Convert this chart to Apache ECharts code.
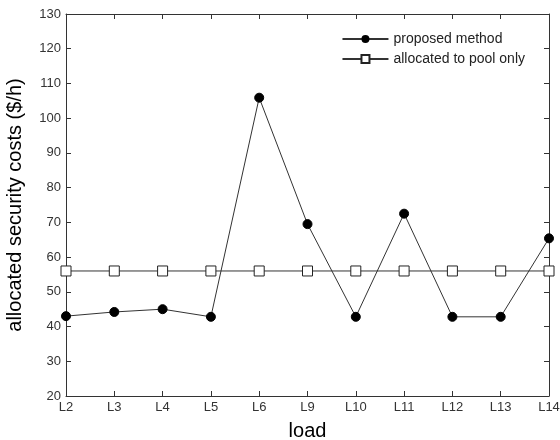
<!DOCTYPE html>
<html style="height: 100%">
<head>
    <meta charset="utf-8">
    <title>allocated security costs</title>
</head>
<body style="height: 100%; margin: 0">
<div id="container" style="width: 560px; height: 440px"></div>
<script src="https://cdn.jsdelivr.net/npm/echarts@6/dist/echarts.min.js"></script>
<script type="text/javascript">
var loads = ['L2', 'L3', 'L4', 'L5', 'L6', 'L9', 'L10', 'L11', 'L12', 'L13', 'L14'];
var proposed = [43.0, 44.2, 45.0, 42.8, 105.9, 69.5, 42.8, 72.5, 42.8, 42.8, 65.4];
var poolOnly = [56, 56, 56, 56, 56, 56, 56, 56, 56, 56, 56];

var myChart = echarts.init(document.getElementById('container'));
var font = 'Liberation Sans, Arial, sans-serif';
var axisLine = { show: true, lineStyle: { color: '#333', width: 1 } };

option = {
    backgroundColor: '#fff',
    animation: false,
    grid: { left: 66, right: 11, top: 14, bottom: 44, containLabel: false, outerBoundsMode: 'none' },
    legend: {
        right: 30,
        top: 27,
        orient: 'vertical',
        itemGap: 6,
        itemWidth: 46,
        itemHeight: 10,
        textStyle: { fontFamily: font, fontSize: 14, color: '#222' },
        data: ['proposed method', 'allocated to pool only']
    },
    xAxis: [{
        type: 'category',
        data: loads,
        boundaryGap: false,
        name: 'load',
        nameLocation: 'middle',
        nameGap: 25,
        nameTextStyle: { fontFamily: font, fontSize: 20, color: '#000' },
        axisLine: axisLine,
        axisTick: { show: true, inside: true, length: 5, lineStyle: { color: '#333' } },
        axisLabel: { fontFamily: font, fontSize: 13, color: '#333', margin: 5 },
        splitLine: { show: false }
    }, {
        type: 'category',
        data: loads,
        boundaryGap: false,
        position: 'top',
        axisLine: axisLine,
        axisTick: { show: true, inside: true, length: 5, lineStyle: { color: '#333' } },
        axisLabel: { show: false },
        splitLine: { show: false }
    }],
    yAxis: [{
        type: 'value',
        min: 20,
        max: 130,
        interval: 10,
        name: 'allocated security costs ($/h)',
        nameLocation: 'middle',
        nameGap: 41,
        nameTextStyle: { fontFamily: font, fontSize: 20, color: '#000' },
        axisLine: axisLine,
        axisTick: { show: true, inside: true, length: 5, lineStyle: { color: '#333' } },
        axisLabel: { fontFamily: font, fontSize: 13, color: '#333', margin: 5 },
        splitLine: { show: false }
    }, {
        type: 'value',
        min: 20,
        max: 130,
        interval: 10,
        position: 'right',
        axisLine: axisLine,
        axisTick: { show: true, inside: true, length: 5, lineStyle: { color: '#333' } },
        axisLabel: { show: false },
        splitLine: { show: false }
    }],
    series: [{
        name: 'proposed method',
        type: 'line',
        data: proposed,
        symbol: 'circle',
        symbolSize: 9,
        lineStyle: { color: '#333', width: 1 },
        itemStyle: { color: '#000', borderColor: '#000' }
    }, {
        name: 'allocated to pool only',
        type: 'line',
        data: poolOnly,
        symbol: 'rect',
        symbolSize: 10,
        lineStyle: { color: '#333', width: 1 },
        itemStyle: { color: '#fff', borderColor: '#222', borderWidth: 1 }
    }]
};
myChart.setOption(option);
</script>
</body>
</html>
